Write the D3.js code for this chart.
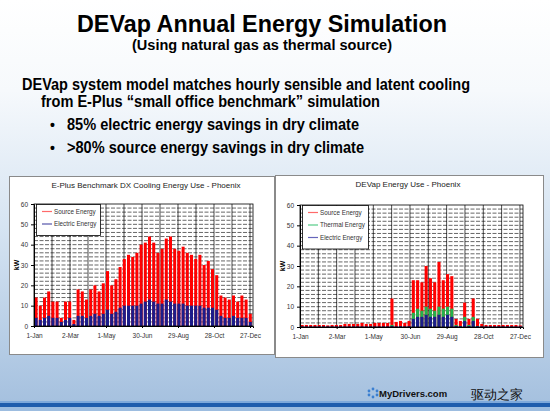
<!DOCTYPE html>
<html><head><meta charset="utf-8">
<script src="https://cdn.jsdelivr.net/npm/d3@7/dist/d3.min.js"></script>
<style>
body{margin:0;overflow:hidden;background:#fff}
svg{display:block}
text{font-family:"Liberation Sans",Arial,sans-serif}
</style>
</head><body>
<svg id="c" width="550" height="411"></svg>
<script>
// ---------- DATA ----------
const xTickLabels = ["1-Jan","2-Mar","1-May","30-Jun","29-Aug","28-Oct","27-Dec"];
const xTickDays = [0,60,120,180,240,300,360];
const yTicks = [0,10,20,30,40,50,60];
const weekStartDays = [0,7,14,21,28,35,42,49,56,63,70,77,84,91,98,105,112,119,126,133,140,147,154,161,168,175,182,189,196,203,210,217,224,231,238,245,252,259,266,273,280,287,294,301,308,315,322,329,336,343,350,357];

// E-Plus benchmark DX (weekly peak kW)
const benchSource = [14,10,14,17,12,12,4,12,12,3,18,17,13,18,20,17,21,27,20,23,29,33,35,34,36,40,41,44,41,36,38,43,44,38,37,39,36,35,33,35,30,32,28,25,15,14,13,15,12,15,13,6];
const benchElectric = [4,3,4,5,4,4,2,3,4,1,5,5,4,5,6,5,6,8,6,7,9,10,10,10,10,11,12,13,12,11,11,13,12,11,11,11,10,10,10,10,9,9,9,8,5,4,4,5,4,4,4,2];

// DEVap (weekly peak kW)
const devapSource = [1,1,1,1,1,1,0.8,1,1,1,1.5,1.5,1.5,1.5,2,1.5,1.5,2,2,2,2,14,2.5,3,2,3,23,23,22,30,24,22,32,23,26,25,4,3,12,4,14,4,1.5,1,1,1,1,1,1,1,1,0.8];
const devapThermal = [0,0,0,0,0,0,0,0,0,0,0,0,0,0,0,0,0,0,0,0,0,1,0,0,0,0,7,9,8,10,9,8,10,9,10,9,1,0.5,5,1,5,0.5,0,0,0,0,0,0,0,0,0,0];
const devapElectric = [0.3,0.3,0.3,0.3,0.3,0.3,0.3,0.3,0.3,0.3,0.3,0.3,0.3,0.3,0.3,0.3,0.3,0.3,0.3,0.3,0.3,0.5,0.3,0.4,0.3,0.4,4,5,5,6,5,5,6,5,6,5,0.5,0.4,3,0.5,3,0.4,0.3,0.3,0.3,0.3,0.3,0.3,0.3,0.3,0.3,0.3];

const colors = {source:"#ff0000", thermal:"#22b24c", electric:"#1c1c8a"};

// ---------- SLIDE ----------
const svg = d3.select("#c");
const defs = svg.append("defs");
const gr = defs.append("linearGradient").attr("id","bg").attr("x1",0).attr("y1",0).attr("x2",0).attr("y2",1);
[["0","#ffffff"],["0.22","#f6f9fc"],["0.55","#d6e4f2"],["1","#a3bfde"]].forEach(s=>gr.append("stop").attr("offset",s[0]).attr("stop-color",s[1]));
svg.append("rect").attr("width",550).attr("height",411).attr("fill","url(#bg)");

svg.append("rect").attr("x",0).attr("y",401).attr("width",550).attr("height",2).attr("fill","#7ea9db");
svg.append("rect").attr("x",0).attr("y",403).attr("width",550).attr("height",4).attr("fill","#1f5dad");
svg.append("rect").attr("x",0).attr("y",407).attr("width",550).attr("height",4).attr("fill","#9dbde0");

function txt(s,x,y,size,opts={}){
  const t = svg.append("text").attr("x",x).attr("y",y).attr("font-size",size)
    .attr("font-weight",opts.weight||"bold").attr("fill",opts.fill||"#000")
    .attr("text-anchor",opts.anchor||"start").text(s);
  if(opts.len) t.attr("textLength",opts.len).attr("lengthAdjust","spacingAndGlyphs");
  return t;
}
txt("DEVap Annual Energy Simulation",262,32,23,{anchor:"middle",len:370});
txt("(Using natural gas as thermal source)",262,50,14.5,{anchor:"middle",len:260});
txt("DEVap system model matches hourly sensible and latent cooling",22,90,16,{len:448});
txt("from E-Plus \u201csmall office benchmark\u201d simulation",41,107,16,{len:339});
txt("\u2022",50,130,14);
txt("85% electric energy savings in dry climate",67,130,16,{len:292});
txt("\u2022",50,153,14);
txt(">80% source energy savings in dry climate",67,153,16,{len:297});

// ---------- CHARTS ----------
function drawChart(o){
  const g = svg.append("g");
  g.append("rect").attr("x",o.box[0]+0.5).attr("y",o.box[1]+0.5).attr("width",o.box[2]).attr("height",o.box[3])
    .attr("fill","#fff").attr("stroke","#8a8a8a").attr("stroke-width",1);
  g.append("text").attr("x",o.titleX).attr("y",o.box[1]+12).attr("text-anchor","middle")
    .attr("font-size",8).attr("fill","#222").text(o.title);

  const x = d3.scaleLinear().domain([0,365]).range([o.px0,o.px1]);
  const y = d3.scaleLinear().domain([0,60]).range([o.py1,o.py0]);
  const clipId = "clip"+o.id;
  defs.append("clipPath").attr("id",clipId).append("rect")
    .attr("x",o.px0).attr("y",o.py0).attr("width",o.px1-o.px0).attr("height",o.py1-o.py0);

  // grid
  const grid = g.append("g");
  grid.selectAll("line.h").data(d3.range(2,60,2)).join("line")
    .attr("x1",o.px0).attr("x2",o.px1).attr("y1",d=>y(d)).attr("y2",d=>y(d))
    .attr("stroke","#000").attr("stroke-width",0.6).attr("stroke-dasharray","4,1.5");
  grid.selectAll("line.v").data(d3.range(30,365,30)).join("line")
    .attr("x1",d=>x(d)).attr("x2",d=>x(d)).attr("y1",o.py0).attr("y2",o.py1)
    .attr("stroke","#000").attr("stroke-width",0.7);

  // series
  const data = g.append("g").attr("clip-path",`url(#${clipId})`);
  o.series.forEach(s=>{
    data.append("g").selectAll("rect").data(s.values).join("rect")
      .attr("x",(d,i)=>x(weekStartDays[i]+1))
      .attr("width",(d,i)=>x(weekStartDays[i]+6)-x(weekStartDays[i]+1))
      .attr("y",d=>y(d)).attr("height",d=>y(0)-y(d))
      .attr("fill",s.color);
  });

  // frame
  g.append("rect").attr("x",o.px0).attr("y",o.py0).attr("width",o.px1-o.px0).attr("height",o.py1-o.py0)
    .attr("fill","none").attr("stroke","#000").attr("stroke-width",0.8);

  // axes
  const ya = g.append("g").attr("transform",`translate(${o.px0},0)`)
    .call(d3.axisLeft(y).tickValues(yTicks).tickSize(3).tickPadding(3));
  const xa = g.append("g").attr("transform",`translate(0,${o.py1})`)
    .call(d3.axisBottom(x).tickValues(xTickDays).tickFormat((d,i)=>xTickLabels[i]).tickSize(2).tickPadding(5));
  [ya,xa].forEach(a=>{
    a.select(".domain").attr("stroke","#000");
    a.selectAll("line").attr("stroke","#000");
    a.selectAll("text").attr("font-size",6.5).attr("fill","#333").attr("font-family","Liberation Sans, Arial, sans-serif");
  });
  g.append("text").attr("transform",`translate(${o.px0-15},${(o.py0+o.py1)/2}) rotate(-90)`)
    .attr("text-anchor","middle").attr("font-size",7).attr("font-weight","bold").text("kW");

  // legend
  const lg = g.append("g");
  const lh = 6 + o.series.length*12.5;
  lg.append("rect").attr("x",o.px0+2.5).attr("y",o.py0+0.5).attr("width",o.legW).attr("height",lh)
    .attr("fill","#fff").attr("stroke","#000").attr("stroke-width",0.8);
  o.series.forEach((s,i)=>{
    const yy = o.py0 + 7.5 + i*12.5;
    lg.append("line").attr("x1",o.px0+8).attr("x2",o.px0+18).attr("y1",yy).attr("y2",yy)
      .attr("stroke",s.legendColor).attr("stroke-width",1.2);
    lg.append("text").attr("x",o.px0+20).attr("y",yy+2.2).attr("font-size",6.3).attr("fill","#333").text(s.name);
  });
}

drawChart({id:1, box:[9,176,265,178], title:"E-Plus Benchmark DX Cooling Energy Use - Phoenix", titleX:146,
  px0:34, px1:253, py0:204, py1:326, legW:64,
  series:[
    {name:"Source Energy", values:benchSource, color:colors.source, legendColor:"#ff6a6a"},
    {name:"Electric Energy", values:benchElectric, color:colors.electric, legendColor:"#5555aa"}
  ]});

drawChart({id:2, box:[275,175,268,182], title:"DEVap Energy Use - Phoenix", titleX:408,
  px0:300, px1:523, py0:205, py1:327, legW:66,
  series:[
    {name:"Source Energy", values:devapSource, color:colors.source, legendColor:"#ff6a6a"},
    {name:"Thermal Energy", values:devapThermal, color:colors.thermal, legendColor:"#55cc88"},
    {name:"Electric Energy", values:devapElectric, color:colors.electric, legendColor:"#6666bb"}
  ]});

// ---------- WATERMARK ----------
const wm = svg.append("g");
[[0,-4],[4,-2],[4,2],[0,4],[-4,2],[-4,-2]].forEach(p=>{
  wm.append("circle").attr("cx",373+p[0]).attr("cy",393+p[1]).attr("r",1.4).attr("fill","#3b7fd0");
});
svg.append("text").attr("x",379).attr("y",397).attr("font-size",9.5).attr("font-weight","bold")
  .attr("font-family","DejaVu Sans Mono, monospace").attr("fill","#111").text("MyDrivers.com");
svg.append("text").attr("x",471).attr("y",399).attr("font-size",13)
  .attr("font-family","Noto Sans CJK SC, sans-serif").attr("fill","#111").text("驱动之家");
</script>
</body></html>
